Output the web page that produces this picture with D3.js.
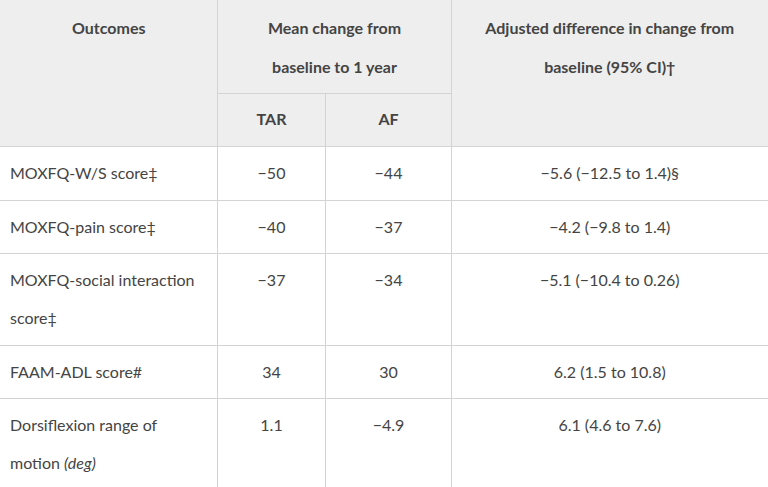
<!DOCTYPE html>
<html><head><meta charset="utf-8">
<script src="https://cdn.jsdelivr.net/npm/d3@7"></script>
<style>body{margin:0;background:#fff}text{font-family:Lato,"Noto Sans",sans-serif;font-size:16px;fill:#444}</style>
</head><body>
<svg id="c" width="768" height="487"></svg>
<script>
const outcomes=[["MOXFQ-W/S score‡"],["MOXFQ-pain score‡"],["MOXFQ-social interaction","score‡"],["FAAM-ADL score#"],["Dorsiflexion range of","motion |(deg)"]];
const tar=["−50","−40","−37","34","1.1"];
const af=["−44","−37","−34","30","−4.9"];
const diff=["−5.6 (−12.5 to 1.4)§","−4.2 (−9.8 to 1.4)","−5.1 (−10.4 to 0.26)","6.2 (1.5 to 10.8)","6.1 (4.6 to 7.6)"];
const rowH=[54,53,92,53,90];
const svg=d3.select("#c");
const cols=[0,217.5,325.5,451.5,768];
const line="#d3d3d3";
svg.append("rect").attr("x",0).attr("y",0).attr("width",768).attr("height",146).attr("fill","#eeeeee");
let ys=[146];rowH.forEach(h=>ys.push(ys[ys.length-1]+h));
const g=svg.append("g");
// horizontal lines
g.append("line").attr("x1",cols[1]).attr("x2",cols[3]).attr("y1",93.5).attr("y2",93.5).attr("stroke",line);
ys.forEach(y=>g.append("line").attr("x1",0).attr("x2",768).attr("y1",y+0.5).attr("y2",y+0.5).attr("stroke",line));
[1,3].forEach(i=>g.append("line").attr("x1",cols[i]).attr("x2",cols[i]).attr("y1",0).attr("y2",487).attr("stroke",line));
g.append("line").attr("x1",cols[2]).attr("x2",cols[2]).attr("y1",93.5).attr("y2",487).attr("stroke",line);
function t(x,y,s,anchor,bold){return svg.append("text").attr("x",x).attr("y",y).attr("text-anchor",anchor).attr("font-weight",bold?600:400).style("font-weight",bold?"bold":"normal").style("fill",bold?"#444":"#444").text(s);}
t(cols[1]/2,34,"Outcomes","middle",1);
t((cols[1]+cols[3])/2,34,"Mean change from","middle",1);
t((cols[1]+cols[3])/2,73,"baseline to 1 year","middle",1);
t((cols[3]+cols[4])/2,34,"Adjusted difference in change from","middle",1);
t((cols[3]+cols[4])/2,73,"baseline (95% CI)†","middle",1);
t((cols[1]+cols[2])/2,125,"TAR","middle",1);
t((cols[2]+cols[3])/2,125,"AF","middle",1);
outcomes.forEach((o,i)=>{
  const y0=ys[i]+33;
  o.forEach((ln,j)=>{
    const parts=ln.split("|");
    const tx=svg.append("text").attr("x",10).attr("y",y0+j*38);
    tx.append("tspan").text(parts[0]);
    if(parts[1])tx.append("tspan").style("font-style","italic").text(parts[1]);
  });
  t((cols[1]+cols[2])/2,y0,tar[i],"middle");
  t((cols[2]+cols[3])/2,y0,af[i],"middle");
  t((cols[3]+cols[4])/2,y0,diff[i],"middle");
});
</script></body></html>
